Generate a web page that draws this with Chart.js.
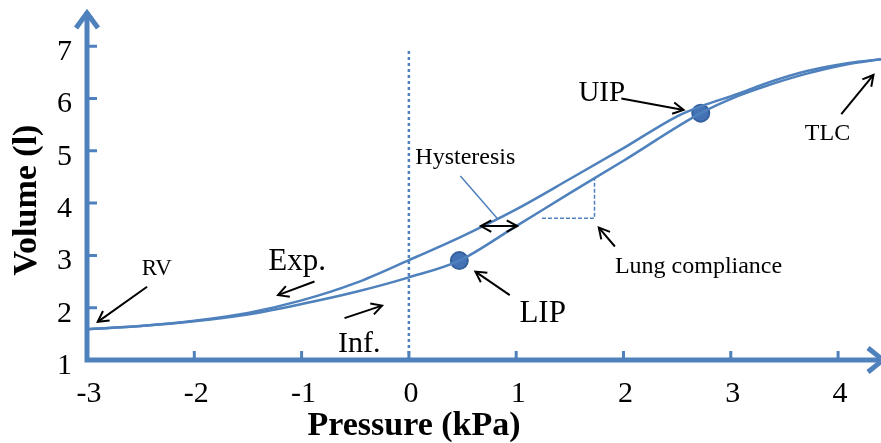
<!DOCTYPE html>
<html>
<head>
<meta charset="utf-8">
<script src="https://cdn.jsdelivr.net/npm/chart.js@4"></script>
<style>
  html, body { margin: 0; padding: 0; background: #fff; }
  #wrap { width: 881px; height: 443px; }
</style>
</head>
<body>
<div id="wrap"><canvas id="pvChart" width="881" height="443"></canvas></div>
<script>
'use strict';

// ---- Data (pressure in kPa, volume in litres) ----
const inflationP  = [-3, -2.5, -2, -1.5, -1, -0.5, 0, 0.47, 1, 1.5, 2, 2.72, 3.07, 3.3, 3.7, 4.1, 4.4];
const inflationV  = [1.59, 1.65, 1.74, 1.87, 2.07, 2.3, 2.58, 2.9, 3.56, 4.19, 4.81, 5.72, 6.05, 6.22, 6.47, 6.66, 6.75];
const expirationP = [-3, -2.5, -2, -1.5, -1, -0.5, 0, 0.5, 1, 1.5, 2, 2.5, 2.72, 3.07, 3.3, 3.7, 4.1, 4.4];
const expirationV = [1.59, 1.65, 1.75, 1.9, 2.14, 2.47, 2.91, 3.37, 3.88, 4.46, 5.05, 5.66, 5.85, 6.09, 6.27, 6.52, 6.68, 6.75];
const markerP = [0.47, 2.72];   // LIP, UIP
const markerV = [2.9, 5.72];
const xTicks = [-3, -2, -1, 0, 1, 2, 3, 4];
const yTicks = [1, 2, 3, 4, 5, 6, 7];

const BLUE = '#4f81bd';
const SERIF = '"Liberation Serif", "Times New Roman", serif';

const toPoints = (xs, ys) => xs.map((v, i) => ({ x: v, y: ys[i] }));

// Annotation labels, placed in data units (left edge / baseline)
const notes = [
  { text: 'RV',              p: -2.49, v: 2.62, size: 23 },
  { text: 'Exp.',            p: -1.31, v: 2.72, size: 31 },
  { text: 'Inf.',            p: -0.66, v: 1.16, size: 30 },
  { text: 'Hysteresis',      p: 0.06,  v: 4.74, size: 24 },
  { text: 'LIP',             p: 1.03,  v: 1.73, size: 31 },
  { text: 'Lung compliance', p: 1.92,  v: 2.66, size: 24 },
  { text: 'UIP',             p: 1.58,  v: 5.95, size: 29 },
  { text: 'TLC',             p: 3.69,  v: 5.20, size: 24 },
];

// Black pointer arrows: tail -> head, in data units
const pointers = [
  { from: [-2.44, 2.40], to: [-2.90, 1.73] },
  { from: [-0.88, 2.50], to: [-1.22, 2.24] },
  { from: [-0.60, 1.80], to: [-0.25, 2.04] },
  { from: [0.94, 2.24],  to: [0.62, 2.69] },
  { from: [0.67, 3.56],  to: [1.01, 3.56], both: true },
  { from: [1.92, 3.17],  to: [1.77, 3.53] },
  { from: [1.98, 6.00],  to: [2.56, 5.78] },
  { from: [4.03, 5.70],  to: [4.33, 6.45] },
];

function arrowHead(ctx, x1, y1, x2, y2) {
  const a = Math.atan2(y2 - y1, x2 - x1);
  const len = 12, spread = 0.5;
  ctx.beginPath();
  ctx.moveTo(x2 - len * Math.cos(a - spread), y2 - len * Math.sin(a - spread));
  ctx.lineTo(x2, y2);
  ctx.lineTo(x2 - len * Math.cos(a + spread), y2 - len * Math.sin(a + spread));
  ctx.stroke();
}

const pvDecor = {
  id: 'pvDecor',
  afterDraw(chart) {
    const { ctx, chartArea: ca, scales: { x, y } } = chart;
    const px = v => x.getPixelForValue(v);
    const py = v => y.getPixelForValue(v);
    ctx.save();

    // axes with arrow ends
    ctx.strokeStyle = BLUE;
    ctx.lineWidth = 5;
    ctx.lineJoin = 'miter';
    ctx.beginPath();
    ctx.moveTo(ca.left, ca.bottom + 2.5);
    ctx.lineTo(ca.left, ca.top + 4);
    ctx.moveTo(ca.left - 2.5, ca.bottom);
    ctx.lineTo(ca.right + 2, ca.bottom);
    ctx.stroke();
    ctx.beginPath();
    ctx.moveTo(ca.left - 11, ca.top + 20);
    ctx.lineTo(ca.left, ca.top + 5);
    ctx.lineTo(ca.left + 11, ca.top + 20);
    ctx.moveTo(ca.right - 13, ca.bottom - 12);
    ctx.lineTo(ca.right + 2, ca.bottom);
    ctx.lineTo(ca.right - 13, ca.bottom + 12);
    ctx.stroke();

    // inward tick marks
    ctx.lineWidth = 3;
    ctx.beginPath();
    yTicks.slice(1).forEach(v => { ctx.moveTo(ca.left, py(v)); ctx.lineTo(ca.left + 10, py(v)); });
    xTicks.slice(1).forEach(v => { ctx.moveTo(px(v), ca.bottom); ctx.lineTo(px(v), ca.bottom - 9); });
    ctx.stroke();

    // tick labels
    ctx.fillStyle = '#000';
    ctx.font = '30px ' + SERIF;
    ctx.textBaseline = 'middle';
    ctx.textAlign = 'right';
    yTicks.forEach(v => ctx.fillText(String(v), ca.left - 15, py(v) + 6));
    ctx.textAlign = 'center';
    xTicks.forEach(v => ctx.fillText(String(v), px(v) + 2, ca.bottom + 34));

    // axis titles
    ctx.font = 'bold 34px ' + SERIF;
    ctx.fillText('Pressure (kPa)', 414, 426);
    ctx.save();
    ctx.translate(27, 200);
    ctx.rotate(-Math.PI / 2);
    ctx.fillText('Volume (l)', 0, 0);
    ctx.restore();

    // annotation labels
    ctx.textAlign = 'left';
    ctx.textBaseline = 'alphabetic';
    notes.forEach(n => {
      ctx.font = n.size + 'px ' + SERIF;
      ctx.fillText(n.text, px(n.p), py(n.v));
    });

    // pointer arrows
    ctx.strokeStyle = '#000';
    ctx.lineWidth = 2;
    pointers.forEach(a => {
      const x1 = px(a.from[0]), y1 = py(a.from[1]);
      const x2 = px(a.to[0]), y2 = py(a.to[1]);
      ctx.beginPath();
      ctx.moveTo(x1, y1);
      ctx.lineTo(x2, y2);
      ctx.stroke();
      arrowHead(ctx, x1, y1, x2, y2);
      if (a.both) arrowHead(ctx, x2, y2, x1, y1);
    });

    ctx.restore();
  }
};

new Chart(document.getElementById('pvChart'), {
  type: 'line',
  data: {
    datasets: [
      {
        label: 'Inflation',
        data: toPoints(inflationP, inflationV),
        borderColor: BLUE,
        borderWidth: 2.5,
        pointRadius: 0,
        cubicInterpolationMode: 'monotone',
      },
      {
        label: 'Expiration',
        data: toPoints(expirationP, expirationV),
        borderColor: BLUE,
        borderWidth: 2.5,
        pointRadius: 0,
        cubicInterpolationMode: 'monotone',
      },
      {
        label: 'Zero pressure',
        data: [{ x: 0, y: 1 }, { x: 0, y: 6.93 }],
        borderColor: BLUE,
        borderWidth: 2.5,
        borderDash: [3, 3],
        pointRadius: 0,
      },
      {
        label: 'Compliance',
        data: [{ x: 1.24, y: 3.71 }, { x: 1.73, y: 3.71 }, { x: 1.73, y: 4.47 }],
        borderColor: BLUE,
        borderWidth: 1.5,
        borderDash: [4, 2],
        pointRadius: 0,
      },
      {
        label: 'Hysteresis pointer',
        data: [{ x: 0.48, y: 4.52 }, { x: 0.83, y: 3.69 }],
        borderColor: BLUE,
        borderWidth: 1.5,
        pointRadius: 0,
      },
      {
        label: 'Inflection points',
        data: toPoints(markerP, markerV),
        showLine: false,
        pointRadius: 8.5,
        pointBackgroundColor: '#4472b4',
        pointBorderColor: '#35609e',
        pointBorderWidth: 2,
      },
    ]
  },
  options: {
    responsive: false,
    devicePixelRatio: 1,
    animation: false,
    layout: { autoPadding: false, padding: { top: 8, right: 0, left: 0, bottom: 0 } },
    plugins: { legend: { display: false }, tooltip: { enabled: false } },
    scales: {
      x: {
        type: 'linear',
        min: -3,
        max: 4.4,
        afterFit: s => { s.height = 83; },
        grid: { display: false },
        border: { display: false },
        ticks: { display: false }
      },
      y: {
        type: 'linear',
        min: 1,
        max: 7.73,
        afterFit: s => { s.width = 87; },
        grid: { display: false },
        border: { display: false },
        ticks: { display: false }
      }
    }
  },
  plugins: [pvDecor]
});
</script>
</body>
</html>
